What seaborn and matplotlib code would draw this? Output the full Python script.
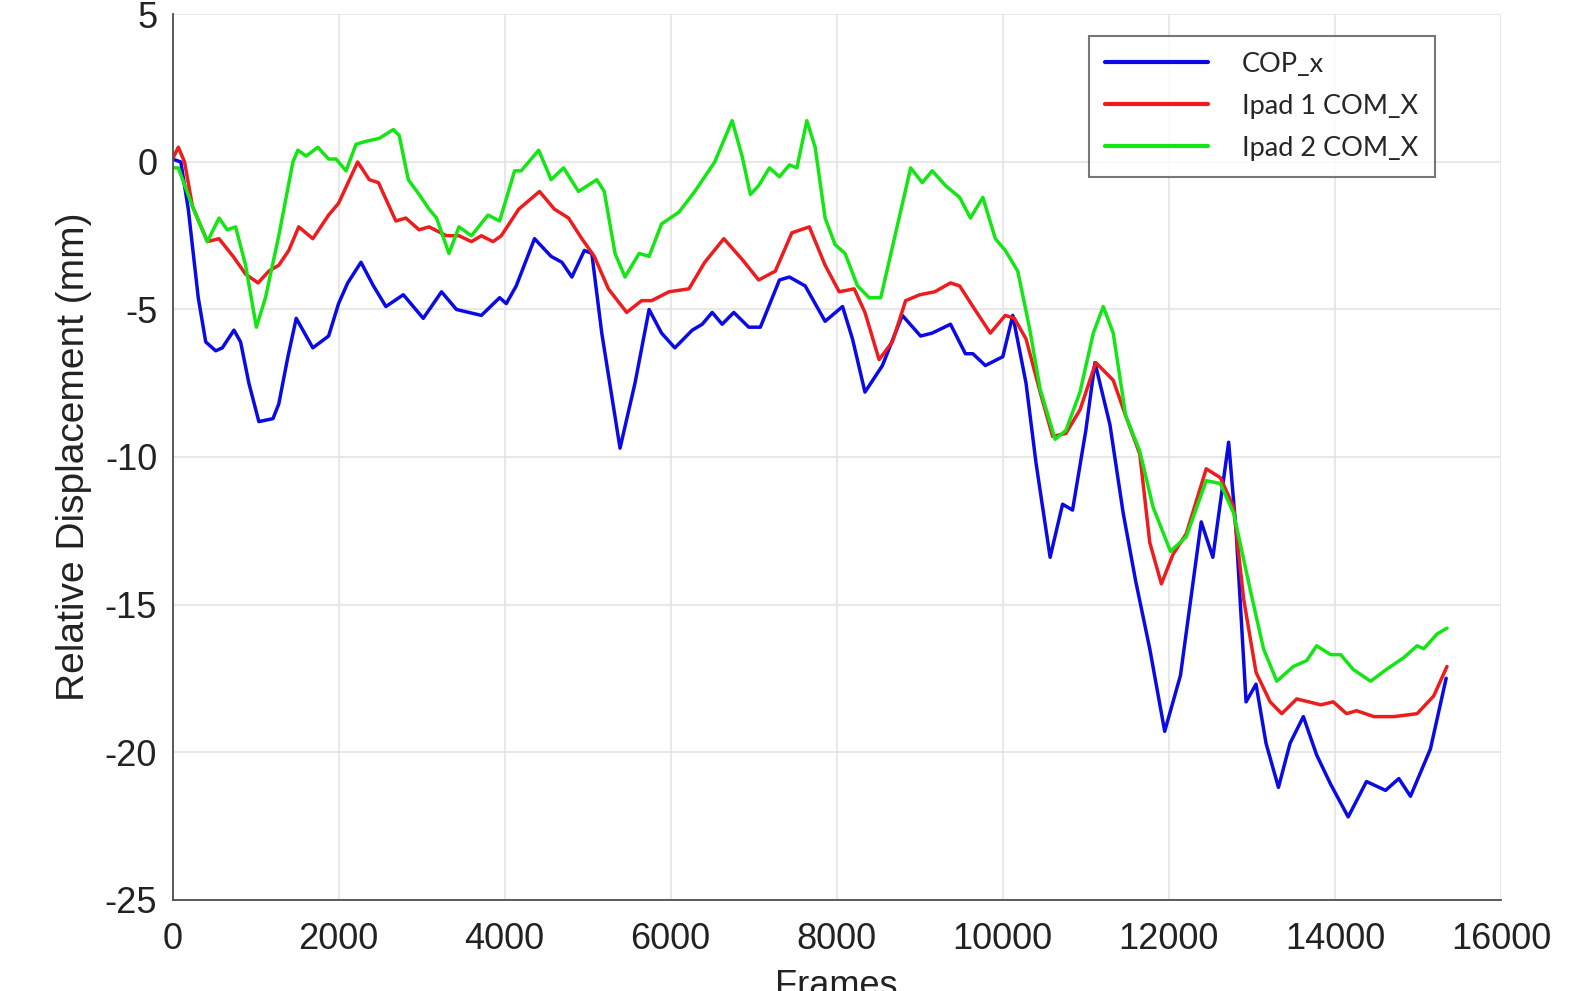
import matplotlib

matplotlib.use("Agg")
import matplotlib.pyplot as plt
import pandas as pd
import seaborn as sns

# values (frames, mm)
cop_frames = [0, 100, 190, 310, 400, 520, 600, 740, 820, 920, 1040, 1210, 1280, 1390, 1490,
              1570, 1690, 1880, 2000, 2110, 2270, 2420, 2570, 2780, 3020, 3240, 3420, 3570,
              3720, 3940, 4020, 4140, 4360, 4560, 4690, 4810, 4960, 5050, 5170, 5390, 5570,
              5740, 5890, 6050, 6260, 6380, 6500, 6620, 6760, 6940, 7080, 7310, 7430, 7620,
              7860, 8070, 8190, 8340, 8550, 8790, 9010, 9150, 9370, 9550, 9640, 9790, 10000,
              10120, 10280, 10400, 10570, 10720, 10840, 11000, 11110, 11290, 11450, 11600,
              11770, 11950, 12140, 12390, 12530, 12720, 12810, 12930, 13050, 13170, 13320,
              13460, 13620, 13780, 13950, 14160, 14380, 14610, 14770, 14910, 15150, 15340]
cop_x = [0.1, 0.0, -1.6, -4.6, -6.1, -6.4, -6.3, -5.7, -6.1, -7.5, -8.8, -8.7, -8.2, -6.6, -5.3,
         -5.7, -6.3, -5.9, -4.8, -4.1, -3.4, -4.2, -4.9, -4.5, -5.3, -4.4, -5.0, -5.1,
         -5.2, -4.6, -4.8, -4.2, -2.6, -3.2, -3.4, -3.9, -3.0, -3.1, -5.8, -9.7, -7.5,
         -5.0, -5.8, -6.3, -5.7, -5.5, -5.1, -5.5, -5.1, -5.6, -5.6, -4.0, -3.9, -4.2,
         -5.4, -4.9, -6.0, -7.8, -6.9, -5.2, -5.9, -5.8, -5.5, -6.5, -6.5, -6.9, -6.6,
         -5.2, -7.5, -10.2, -13.4, -11.6, -11.8, -9.1, -6.8, -8.9, -11.9, -14.2,
         -16.5, -19.3, -17.4, -12.2, -13.4, -9.5, -12.5, -18.3, -17.7, -19.7, -21.2,
         -19.7, -18.8, -20.1, -21.1, -22.2, -21.0, -21.3, -20.9, -21.5, -19.9, -17.5]

ipad1_frames = [0, 70, 145, 240, 420, 560, 730, 880, 1030, 1160, 1280, 1400, 1520, 1690, 1880,
                2000, 2230, 2370, 2480, 2690, 2810, 2970, 3090, 3300, 3450, 3600, 3720, 3860,
                3960, 4170, 4420, 4600, 4770, 4930, 5080, 5250, 5470, 5650, 5770, 5980, 6220,
                6410, 6640, 6860, 7060, 7260, 7460, 7670, 7860, 8030, 8210, 8340, 8510, 8670,
                8830, 9000, 9180, 9370, 9480, 9640, 9850, 10030, 10140, 10280, 10450, 10600,
                10760, 10930, 11120, 11330, 11480, 11650, 11770, 11910, 12050, 12210, 12450,
                12620, 12780, 12900, 13050, 13220, 13360, 13540, 13830, 13980, 14140, 14260,
                14470, 14710, 14990, 15190, 15350]
ipad1_com_x = [0.1, 0.5, 0.0, -1.5, -2.7, -2.6, -3.2, -3.8, -4.1, -3.7, -3.5, -3.0, -2.2, -2.6, -1.8,
               -1.4, 0.0, -0.6, -0.7, -2.0, -1.9, -2.3, -2.2, -2.5, -2.5, -2.7, -2.5, -2.7,
               -2.5, -1.6, -1.0, -1.6, -1.9, -2.6, -3.2, -4.3, -5.1, -4.7, -4.7, -4.4, -4.3,
               -3.4, -2.6, -3.3, -4.0, -3.7, -2.4, -2.2, -3.5, -4.4, -4.3, -5.1, -6.7, -6.1,
               -4.7, -4.5, -4.4, -4.1, -4.2, -4.9, -5.8, -5.2, -5.3, -6.0, -7.8, -9.3,
               -9.2, -8.4, -6.8, -7.4, -8.6, -9.9, -12.9, -14.3, -13.3, -12.6, -10.4,
               -10.7, -11.7, -14.8, -17.3, -18.3, -18.7, -18.2, -18.4, -18.3, -18.7, -18.6,
               -18.8, -18.8, -18.7, -18.1, -17.1]

ipad2_frames = [0, 70, 240, 420, 560, 660, 760, 880, 1010, 1120, 1280, 1450, 1510, 1610, 1750,
                1880, 1970, 2090, 2210, 2330, 2490, 2660, 2730, 2840, 2970, 3090, 3180, 3330,
                3450, 3600, 3800, 3940, 4120, 4200, 4410, 4560, 4710, 4890, 5110, 5200, 5330,
                5450, 5620, 5740, 5890, 6100, 6290, 6530, 6740, 6860, 6960, 7060, 7190, 7310,
                7430, 7520, 7640, 7740, 7860, 7980, 8100, 8250, 8390, 8530, 8710, 8890, 9030,
                9150, 9310, 9480, 9610, 9760, 9910, 10030, 10180, 10320, 10450, 10630, 10760,
                10930, 11090, 11210, 11330, 11480, 11650, 11810, 12020, 12210, 12450, 12620,
                12780, 12980, 13140, 13300, 13500, 13660, 13780, 13950, 14070, 14220, 14430,
                14620, 14830, 14990, 15070, 15230, 15350]
ipad2_com_x = [-0.2, -0.2, -1.5, -2.7, -1.9, -2.3, -2.2, -3.5, -5.6, -4.6, -2.5, 0.0, 0.4, 0.2, 0.5,
               0.1, 0.1, -0.3, 0.6, 0.7, 0.8, 1.1, 0.9, -0.6, -1.1, -1.6, -1.9, -3.1,
               -2.2, -2.5, -1.8, -2.0, -0.3, -0.3, 0.4, -0.6, -0.2, -1.0, -0.6, -1.0, -3.1,
               -3.9, -3.1, -3.2, -2.1, -1.7, -1.0, 0.0, 1.4, 0.2, -1.1, -0.8, -0.2, -0.5,
               -0.1, -0.2, 1.4, 0.5, -1.9, -2.8, -3.1, -4.2, -4.6, -4.6, -2.4, -0.2, -0.7,
               -0.3, -0.8, -1.2, -1.9, -1.2, -2.6, -3.0, -3.7, -5.6, -7.7, -9.4, -9.1,
               -7.8, -5.8, -4.9, -5.8, -8.6, -9.8, -11.7, -13.2, -12.7, -10.8, -10.9,
               -11.9, -14.5, -16.5, -17.6, -17.1, -16.9, -16.4, -16.7, -16.7, -17.2, -17.6,
               -17.2, -16.8, -16.4, -16.5, -16.0, -15.8]

series_names = ["COP_x", "Ipad 1 COM_X", "Ipad 2 COM_X"]
series_colors = ["#0a0ae6", "#ee1c1c", "#14e614"]
x_ticks = list(range(0, 16001, 2000))
y_ticks = list(range(-25, 6, 5))

frames = []
for name, fr, vals in zip(series_names,
                          [cop_frames, ipad1_frames, ipad2_frames],
                          [cop_x, ipad1_com_x, ipad2_com_x]):
    frames.append(pd.DataFrame({"Frames": fr, "value": vals, "series": name}))
df = pd.concat(frames, ignore_index=True)

sns.set_theme(style="whitegrid")
plt.rcParams["font.family"] = ["Liberation Sans", "DejaVu Sans"]
plt.rcParams["axes.unicode_minus"] = False

fig = plt.figure(figsize=(15.74, 9.91), dpi=100)
ax = fig.add_axes([0.1096, 0.0923, 0.9536 - 0.1096, 0.9854 - 0.0923])

sns.lineplot(data=df, x="Frames", y="value", hue="series", hue_order=series_names,
             palette=dict(zip(series_names, series_colors)), estimator=None, sort=True,
             linewidth=2.5, ax=ax)

ax.set_xlim(0, 16000)
ax.set_ylim(-25, 5)
ax.set_xticks(x_ticks)
ax.set_yticks(y_ticks)
ax.grid(True, color="#e4e4e4", linewidth=1.2)
ax.set_axisbelow(True)
for side in ["top", "right"]:
    ax.spines[side].set_visible(False)
for side in ["left", "bottom"]:
    ax.spines[side].set_color("#4d4d4d")
    ax.spines[side].set_linewidth(1.3)
ax.tick_params(direction="in", length=9, width=1.2, color="#4d4d4d",
               labelsize=26, labelcolor="#222222")
ax.tick_params(axis="x", pad=16)
ax.tick_params(axis="y", pad=11)

# the reference crops this label at the bottom edge
ax.set_xlabel("Frames", fontsize=26, color="#222222", labelpad=9)
ax.set_ylabel("Relative Displacement (mm)", fontsize=28, color="#222222", labelpad=9)

leg = ax.legend(loc="upper left", bbox_to_anchor=(0.690, 0.976), borderaxespad=0,
                frameon=True, fancybox=False, prop={"family": "Lato", "size": 19.5},
                handlelength=3.8, handletextpad=1.25, labelspacing=0.62, borderpad=0.6)
leg.get_frame().set_edgecolor("#555555")
leg.get_frame().set_linewidth(1.5)
for line in leg.get_lines():
    line.set_linewidth(3)

fig.savefig("out.png", dpi=100)
